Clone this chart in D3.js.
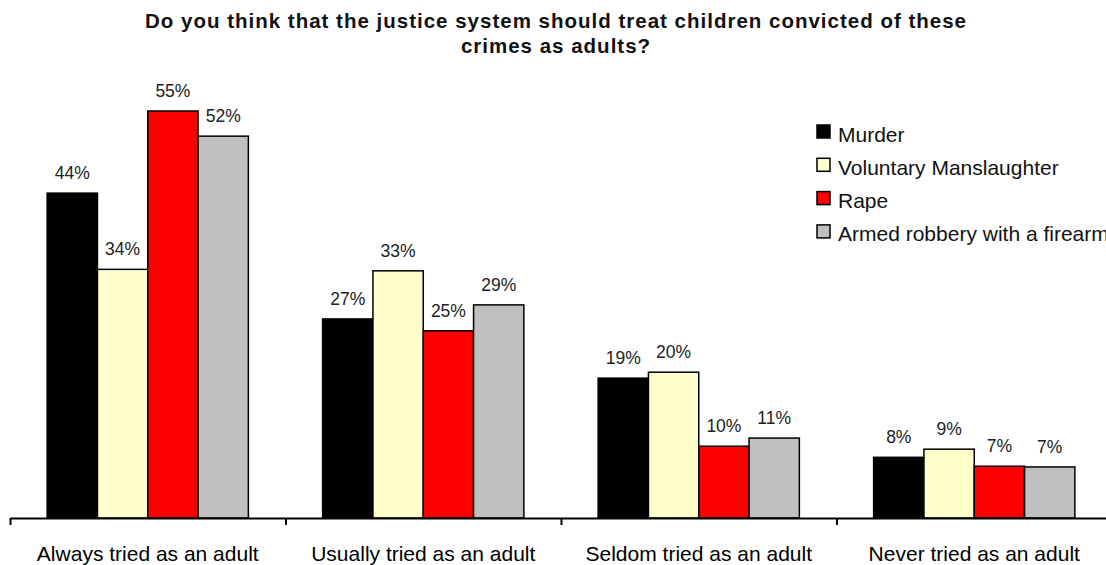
<!DOCTYPE html>
<html>
<head>
<meta charset="utf-8">
<script src="https://cdn.jsdelivr.net/npm/d3@7"></script>
<style>
  html, body { margin: 0; padding: 0; background: #fff; overflow: hidden; }
  text { font-family: "Liberation Sans", Arial, sans-serif; fill: #000; }
</style>
</head>
<body>
<svg id="chart" width="1106" height="565"></svg>
<script>
const titleLines = ["Do you think that the justice system should treat children convicted of these", "crimes as adults?"];
const categories = ["Always tried as an adult", "Usually tried as an adult", "Seldom tried as an adult", "Never tried as an adult"];
const seriesNames = ["Murder", "Voluntary Manslaughter", "Rape", "Armed robbery with a firearm"];
const seriesColors = ["#000000", "#FFFFCC", "#FF0000", "#C0C0C0"];
const murder = [43.9, 26.9, 18.9, 8.2];
const manslaughter = [33.6, 33.4, 19.7, 9.3];
const rape = [55.0, 25.3, 9.7, 7.0];
const robbery = [51.6, 28.8, 10.8, 6.9];
const seriesValues = [murder, manslaughter, rape, robbery];

const svg = d3.select("#chart");
const baseY = 518, x0 = 10, groupStep = 275.5;

const x = d3.scaleBand().domain(categories).range([x0, x0 + groupStep * categories.length]).padding(0);
const xs = d3.scaleBand().domain(seriesNames).range([0, x.bandwidth()]).paddingInner(0).paddingOuter(0.738);
const y = d3.scaleLinear().domain([0, 60]).range([baseY, baseY - 444]);

// title
svg.append("g").selectAll("text").data(titleLines).join("text")
  .attr("x", 556).attr("y", (d, i) => 28 + i * 25)
  .attr("text-anchor", "middle")
  .style("font-weight", "bold").style("font-size", "20.5px").style("letter-spacing", "1px")
  .style("fill", "#111")
  .text(d => d);

// bars
const data = [];
categories.forEach((c, ci) => seriesNames.forEach((s, si) => data.push({c, s, si, v: seriesValues[si][ci]})));

svg.append("g").selectAll("rect").data(data).join("rect")
  .attr("x", d => x(d.c) + xs(d.s))
  .attr("y", d => y(d.v))
  .attr("width", xs.bandwidth())
  .attr("height", d => y(0) - y(d.v))
  .attr("fill", d => seriesColors[d.si])
  .attr("stroke", "#000").attr("stroke-width", 1.5);

svg.append("g").selectAll("text").data(data).join("text")
  .attr("x", d => x(d.c) + xs(d.s) + xs.bandwidth() / 2)
  .attr("y", d => y(d.v) - 14)
  .attr("text-anchor", "middle")
  .style("font-size", "17.5px").style("fill", "#222")
  .text(d => d3.format(".0f")(d.v) + "%");

// axis with boundary ticks
const xl = d3.scaleLinear().domain([0, categories.length]).range(x.range());
const axisG = svg.append("g").attr("transform", `translate(0,${baseY})`)
  .call(d3.axisBottom(xl).tickValues(d3.range(categories.length + 1)).tickSize(7).tickSizeOuter(0).tickFormat(""));
axisG.selectAll("path, line").attr("stroke", "#000").attr("stroke-width", 2);

// category labels
const labG = svg.append("g").attr("transform", `translate(0,${baseY})`)
  .call(d3.axisBottom(x).tickSize(0).tickPadding(0));
labG.select(".domain").remove();
labG.selectAll("text").attr("y", 43).attr("dy", 0)
  .style("font-size", "21px").style("font-family", "'Liberation Sans', Arial, sans-serif").attr("fill", "#111");

// legend
const leg = svg.append("g").selectAll("g").data(seriesNames).join("g")
  .attr("transform", (d, i) => `translate(817,${125 + i * 33.3})`);
leg.append("rect").attr("width", 13).attr("height", 13)
  .attr("fill", (d, i) => seriesColors[i]).attr("stroke", "#000").attr("stroke-width", 1.5);
leg.append("text").attr("x", 21).attr("y", 16.5)
  .style("font-size", "21px").style("fill", "#111").text(d => d);
</script>
</body>
</html>
